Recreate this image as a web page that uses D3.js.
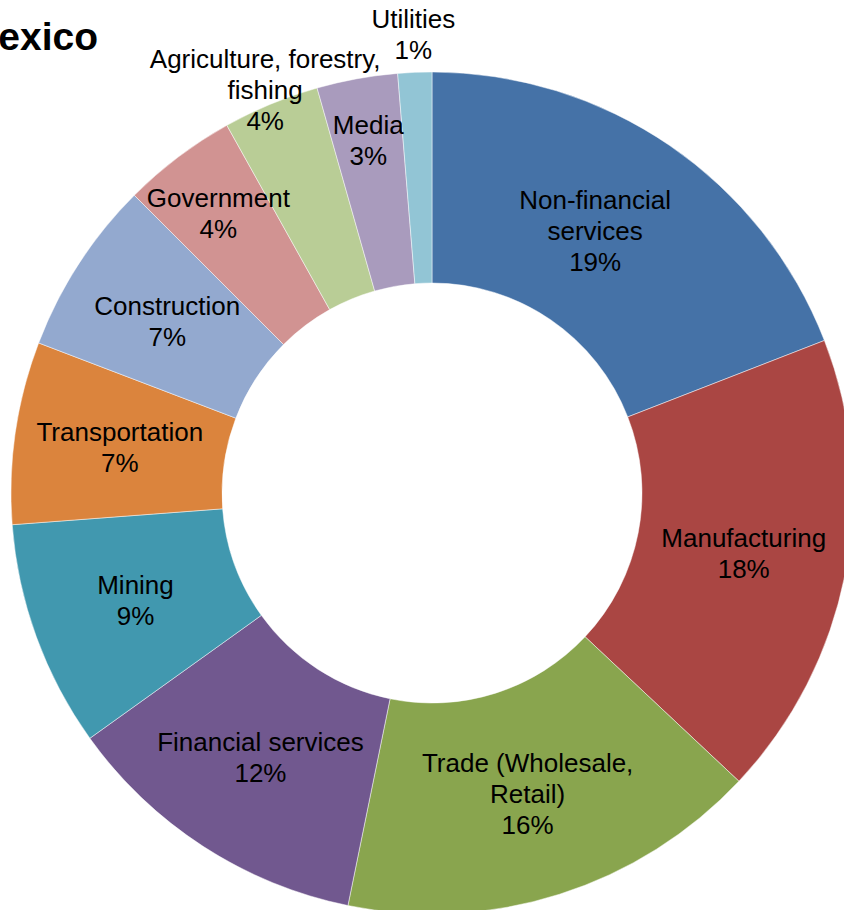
<!DOCTYPE html>
<html>
<head>
<meta charset="utf-8">
<script src="https://cdn.jsdelivr.net/npm/d3@7"></script>
<style>
  html, body { margin: 0; padding: 0; background: #fff; }
  svg { display: block; }
  text { font-family: "Liberation Sans", Arial, Helvetica, sans-serif; }
</style>
</head>
<body>
<svg id="chart" width="844" height="910"></svg>
<script>
// Share of each sector (percent), clockwise from 12 o'clock
const categories = [
  "Non-financial services",
  "Manufacturing",
  "Trade (Wholesale, Retail)",
  "Financial services",
  "Mining",
  "Transportation",
  "Construction",
  "Government",
  "Agriculture, forestry, fishing",
  "Media",
  "Utilities"
];
const values = [19.1, 17.9, 16.2, 11.9, 8.7, 7.0, 6.7, 4.4, 3.7, 3.1, 1.3];
const colors = [
  "#4572A7", "#AA4643", "#89A54E", "#71588F", "#4198AF", "#DB843D",
  "#93A9CF", "#D19392", "#B9CD96", "#A99BBD", "#92C5D5"
];
// How each category name is broken into lines
const labelLines = {
  "Non-financial services": ["Non-financial", "services"],
  "Trade (Wholesale, Retail)": ["Trade (Wholesale,", "Retail)"],
  "Agriculture, forestry, fishing": ["Agriculture, forestry,", "fishing"]
};
const title = "Mexico";

const data = categories.map((c, i) => ({ category: c, value: values[i], color: colors[i] }));

const svg = d3.select("#chart");
const cx = 432, cy = 493;
const outerR = 421, innerR = 210;

const pie = d3.pie().value(d => d.value).sort(null);
const arc = d3.arc().innerRadius(innerR).outerRadius(outerR);

const g = svg.append("g").attr("transform", `translate(${cx},${cy})`);
const arcs = pie(data);

g.selectAll("path.slice")
  .data(arcs)
  .join("path")
  .attr("class", "slice")
  .attr("d", arc)
  .attr("fill", d => d.data.color)
  .attr("stroke", "rgba(255,255,255,0.6)")
  .attr("stroke-width", 0.8);

// Label placement: radius from centre (default = middle of ring), plus small nudges
const labelRadius = {
  "Government": 351,
  "Agriculture, forestry, fishing": 436,
  "Media": 358,
  "Utilities": 459
};
const labelNudge = {
  "Non-financial services": [-15, -2],
  "Manufacturing": [2, 0],
  "Government": [-2, 0]
};
const fontSize = 26, lineH = 31;

g.selectAll("text.label")
  .data(arcs)
  .join("text")
  .attr("class", "label")
  .attr("text-anchor", "middle")
  .attr("font-size", fontSize)
  .attr("fill", "#000")
  .each(function(d) {
    const name = d.data.category;
    const lines = (labelLines[name] || [name]).concat([Math.round(d.data.value) + "%"]);
    const mid = (d.startAngle + d.endAngle) / 2;
    const r = labelRadius[name] || (innerR + outerR) / 2;
    const nudge = labelNudge[name] || [0, 0];
    const x = r * Math.sin(mid) + nudge[0];
    const y = -r * Math.cos(mid) + nudge[1];
    const top = y - (lines.length - 1) * lineH / 2;
    const t = d3.select(this);
    lines.forEach((ln, i) => {
      t.append("tspan")
        .attr("x", x)
        .attr("y", top + i * lineH)
        .attr("dy", "0.35em")
        .text(ln);
    });
  });

// Chart title (runs off the left edge)
svg.append("text")
  .attr("x", 98)
  .attr("y", 50)
  .attr("text-anchor", "end")
  .attr("font-size", 39)
  .attr("font-weight", "bold")
  .attr("fill", "#000")
  .text(title);
</script>
</body>
</html>
